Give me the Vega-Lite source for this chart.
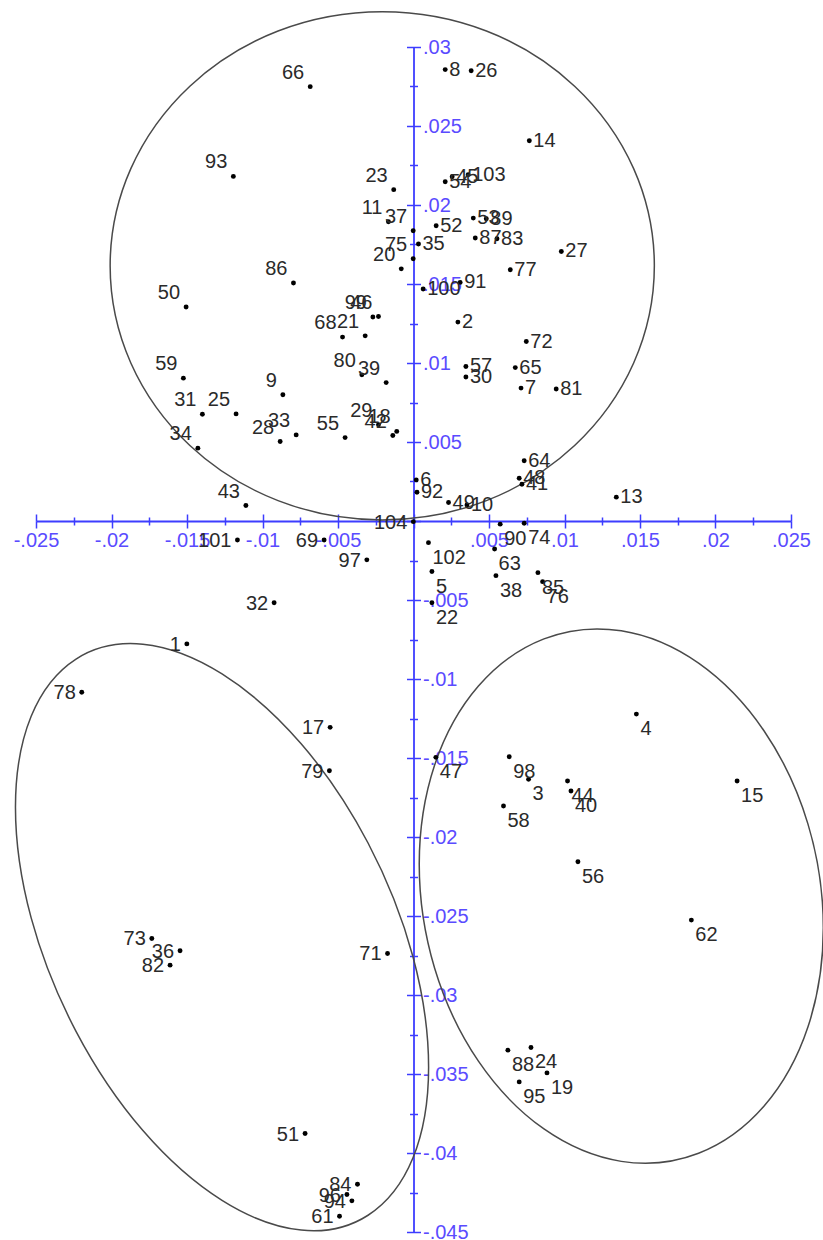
{
 "$schema": "https://vega.github.io/schema/vega-lite/v6.json",
 "width": 755,
 "height": 1185,
 "autosize": {"type": "none"},
 "padding": {"left": 36, "top": 47, "right": 32, "bottom": 8},
 "background": "white",
 "config": {
  "view": {"stroke": null},
  "axis": {"grid": false, "title": null, "domainColor": "#3d3dff", "tickColor": "#3d3dff", "labelColor": "#5a4bff", "labelFont": "Liberation Sans", "labelFontSize": 20, "domainWidth": 1.8, "tickWidth": 1.5, "zindex": 0, "labelOverlap": false, "labelFlush": false, "labelBound": false}
 },
 "datasets": {
  "pts": [
   {"id":"66","x":-0.00684,"y":0.02749},{"id":"93","x":-0.01193,"y":0.02181},{"id":"23","x":-0.00131,"y":0.02097},{"id":"11","x":-0.00166,"y":0.01894},{"id":"37","x":-0.00002,"y":0.01837},{"id":"75","x":-0.00002,"y":0.0166},{"id":"20","x":-0.00081,"y":0.01596},{"id":"86","x":-0.00795,"y":0.01506},{"id":"50","x":-0.01506,"y":0.01354},{"id":"99","x":-0.00269,"y":0.01291},{"id":"46","x":-0.00232,"y":0.01294},{"id":"68","x":-0.0047,"y":0.01164},{"id":"21","x":-0.0032,"y":0.01172},{"id":"80","x":-0.00342,"y":0.00925},{"id":"39","x":-0.00181,"y":0.00876},{"id":"59","x":-0.01524,"y":0.00904},{"id":"9","x":-0.00865,"y":0.00799},{"id":"31","x":-0.01398,"y":0.00676},{"id":"25","x":-0.01175,"y":0.00678},{"id":"28","x":-0.00883,"y":0.00503},{"id":"33","x":-0.00777,"y":0.00545},{"id":"55","x":-0.00453,"y":0.00528},{"id":"29","x":-0.00232,"y":0.00609},{"id":"18","x":-0.00111,"y":0.00567},{"id":"42","x":-0.00137,"y":0.00541},{"id":"34","x":-0.01428,"y":0.00461},{"id":"43","x":-0.0111,"y":0.00098},
   {"id":"8","x":0.0021,"y":0.02857},{"id":"26","x":0.00382,"y":0.0285},{"id":"14","x":0.00767,"y":0.02407},{"id":"54","x":0.0021,"y":0.02147},{"id":"45","x":0.00256,"y":0.02179},{"id":"103","x":0.00362,"y":0.02192},{"id":"52","x":0.0015,"y":0.01869},{"id":"53","x":0.00396,"y":0.01917},{"id":"89","x":0.00482,"y":0.01913},{"id":"87","x":0.00409,"y":0.01791},{"id":"83","x":0.00553,"y":0.01786},{"id":"27","x":0.00979,"y":0.01706},{"id":"77","x":0.00641,"y":0.0159},{"id":"35","x":0.00033,"y":0.01753},{"id":"100","x":0.00064,"y":0.01468},{"id":"91","x":0.00309,"y":0.0151},{"id":"2","x":0.00294,"y":0.01259},{"id":"72","x":0.00747,"y":0.01136},{"id":"57","x":0.00347,"y":0.00978},{"id":"30","x":0.00347,"y":0.00911},{"id":"65","x":0.00674,"y":0.00971},{"id":"7","x":0.00712,"y":0.00841},{"id":"81","x":0.00945,"y":0.00835},{"id":"64","x":0.00733,"y":0.00381},{"id":"48","x":0.007,"y":0.00271},{"id":"41","x":0.00718,"y":0.00233},{"id":"6","x":0.00018,"y":0.0026},{"id":"92","x":0.00023,"y":0.00182},{"id":"49","x":0.00232,"y":0.00117},{"id":"10","x":0.00354,"y":0.00102},{"id":"13","x":0.01343,"y":0.00151},
   {"id":"90","x":0.00574,"y":-0.0002},{"id":"74","x":0.00733,"y":-0.00014},{"id":"102","x":0.00099,"y":-0.00137},{"id":"63","x":0.00537,"y":-0.00177},{"id":"5","x":0.00122,"y":-0.0032},{"id":"38","x":0.00546,"y":-0.00346},{"id":"85","x":0.00824,"y":-0.00327},{"id":"76","x":0.00855,"y":-0.00384},{"id":"22","x":0.00122,"y":-0.00517},{"id":"47","x":0.00148,"y":-0.01496},{"id":"4","x":0.01476,"y":-0.01222},{"id":"98","x":0.00634,"y":-0.01492},{"id":"3","x":0.00762,"y":-0.01635},{"id":"44","x":0.0102,"y":-0.01646},{"id":"40","x":0.01043,"y":-0.01709},{"id":"15","x":0.02143,"y":-0.01646},{"id":"58","x":0.00596,"y":-0.01804},{"id":"56","x":0.01089,"y":-0.02157},{"id":"62","x":0.0184,"y":-0.02526},{"id":"88","x":0.00625,"y":-0.03349},{"id":"24","x":0.00778,"y":-0.03332},{"id":"19","x":0.00884,"y":-0.03493},{"id":"95","x":0.007,"y":-0.0355},
   {"id":"104","x":-0.00001,"y":-0.00004},{"id":"101","x":-0.01166,"y":-0.0012},{"id":"69","x":-0.00592,"y":-0.0012},{"id":"97","x":-0.00309,"y":-0.00246},{"id":"32","x":-0.00923,"y":-0.00517},{"id":"1","x":-0.01501,"y":-0.00778},{"id":"78","x":-0.02197,"y":-0.01084},{"id":"17","x":-0.00552,"y":-0.01306},{"id":"79","x":-0.00557,"y":-0.01581},{"id":"73","x":-0.01733,"y":-0.02642},{"id":"36","x":-0.01546,"y":-0.0272},{"id":"82","x":-0.01612,"y":-0.02811},{"id":"71","x":-0.00172,"y":-0.02737},{"id":"51","x":-0.00718,"y":-0.03877},{"id":"84","x":-0.00371,"y":-0.04198},{"id":"96","x":-0.00441,"y":-0.04263},{"id":"94","x":-0.00408,"y":-0.04303},{"id":"61","x":-0.0049,"y":-0.044}
  ],
  "ell": [
   {"e":1,"i":0,"x":0.01595,"y":0.01615},{"e":1,"i":1,"x":0.01458,"y":0.0223},{"e":1,"i":2,"x":0.01067,"y":0.02752},{"e":1,"i":3,"x":0.00483,"y":0.03101},{"e":1,"i":4,"x":-0.00207,"y":0.03223},{"e":1,"i":5,"x":-0.00897,"y":0.03101},{"e":1,"i":6,"x":-0.01481,"y":0.02752},{"e":1,"i":7,"x":-0.01872,"y":0.0223},{"e":1,"i":8,"x":-0.02009,"y":0.01615},{"e":1,"i":9,"x":-0.01872,"y":0.01},{"e":1,"i":10,"x":-0.01481,"y":0.00478},{"e":1,"i":11,"x":-0.00897,"y":0.00129},{"e":1,"i":12,"x":-0.00207,"y":0.00007},{"e":1,"i":13,"x":0.00483,"y":0.00129},{"e":1,"i":14,"x":0.01067,"y":0.00478},{"e":1,"i":15,"x":0.01458,"y":0.01},
   {"e":2,"i":0,"x":0.001,"y":-0.03457},{"e":2,"i":1,"x":-0.00004,"y":-0.04032},{"e":2,"i":2,"x":-0.00301,"y":-0.04394},{"e":2,"i":3,"x":-0.00744,"y":-0.04488},{"e":2,"i":4,"x":-0.01268,"y":-0.043},{"e":2,"i":5,"x":-0.01792,"y":-0.03858},{"e":2,"i":6,"x":-0.02235,"y":-0.0323},{"e":2,"i":7,"x":-0.02532,"y":-0.02512},{"e":2,"i":8,"x":-0.02636,"y":-0.01811},{"e":2,"i":9,"x":-0.02532,"y":-0.01236},{"e":2,"i":10,"x":-0.02235,"y":-0.00874},{"e":2,"i":11,"x":-0.01792,"y":-0.0078},{"e":2,"i":12,"x":-0.01268,"y":-0.00968},{"e":2,"i":13,"x":-0.00744,"y":-0.0141},{"e":2,"i":14,"x":-0.00301,"y":-0.02038},{"e":2,"i":15,"x":-0.00004,"y":-0.02756},
   {"e":3,"i":0,"x":0.02714,"y":-0.02575},{"e":3,"i":1,"x":0.02612,"y":-0.03203},{"e":3,"i":2,"x":0.02322,"y":-0.03703},{"e":3,"i":3,"x":0.01888,"y":-0.04002},{"e":3,"i":4,"x":0.01376,"y":-0.04053},{"e":3,"i":5,"x":0.00864,"y":-0.03848},{"e":3,"i":6,"x":0.0043,"y":-0.03419},{"e":3,"i":7,"x":0.0014,"y":-0.02831},{"e":3,"i":8,"x":0.00038,"y":-0.02173},{"e":3,"i":9,"x":0.0014,"y":-0.01545},{"e":3,"i":10,"x":0.0043,"y":-0.01045},{"e":3,"i":11,"x":0.00864,"y":-0.00746},{"e":3,"i":12,"x":0.01376,"y":-0.00695},{"e":3,"i":13,"x":0.01888,"y":-0.009},{"e":3,"i":14,"x":0.02322,"y":-0.01329},{"e":3,"i":15,"x":0.02612,"y":-0.01917}
  ]
 },
 "resolve": {"axis": {"x": "independent", "y": "independent"}},
 "layer": [
  {
   "data": {"name": "ell"},
   "mark": {"type": "line", "interpolate": "cardinal-closed", "color": "#4a4a4a", "strokeWidth": 1.5},
   "encoding": {
    "x": {"field": "x", "type": "quantitative", "scale": {"domain": [-0.025, 0.025], "nice": false, "zero": false},
      "axis": {"orient": "bottom", "offset": -711, "values": [-0.025,-0.02,-0.015,-0.01,-0.005,0,0.005,0.01,0.015,0.02,0.025], "tickSize": 7, "labelPadding": 2, "title": null,
        "labelExpr": "datum.value == 0 ? '' : (datum.value < 0 ? '-' : '') + replace(format(abs(datum.value), '.3~f'), '0.', '.')"}},
    "y": {"field": "y", "type": "quantitative", "scale": {"domain": [-0.045, 0.03], "nice": false, "zero": false},
      "axis": {"orient": "right", "offset": -377.5, "values": [-0.045,-0.04,-0.035,-0.03,-0.025,-0.02,-0.015,-0.01,-0.005,0,0.005,0.01,0.015,0.02,0.025,0.03], "tickSize": 7, "labelPadding": 2, "title": null,
        "labelExpr": "datum.value == 0 ? '' : (datum.value < 0 ? '-' : '') + replace(format(abs(datum.value), '.3~f'), '0.', '.')"}},
    "detail": {"field": "e", "type": "nominal"},
    "order": {"field": "i", "type": "quantitative"}
   }
  },
  {
   "data": {"name": "pts"},
   "mark": {"type": "circle", "size": 24, "color": "black", "opacity": 1},
   "encoding": {
    "x": {"field": "x", "type": "quantitative", "scale": {"domain": [-0.025, 0.025], "nice": false, "zero": false},
      "axis": {"orient": "top", "offset": -474, "values": [-0.025,-0.02,-0.015,-0.01,-0.005,0,0.005,0.01,0.015,0.02,0.025], "tickSize": 7, "labels": false, "domain": false, "title": null}},
    "y": {"field": "y", "type": "quantitative", "scale": {"domain": [-0.045, 0.03], "nice": false, "zero": false},
      "axis": {"orient": "left", "offset": -377.5, "values": [-0.045,-0.04,-0.035,-0.03,-0.025,-0.02,-0.015,-0.01,-0.005,0,0.005,0.01,0.015,0.02,0.025,0.03], "tickSize": 7, "labels": false, "domain": false, "title": null}}
   }
  },
  {
   "data": {"name": "pts"},
   "transform": [{"filter": "datum.x < 0 && datum.y > 0"}],
   "mark": {"type": "text", "align": "right", "baseline": "alphabetic", "dx": -6, "dy": -8, "font": "Liberation Sans", "fontSize": 20, "color": "#2a2a2a"},
   "encoding": {
    "x": {"field": "x", "type": "quantitative", "scale": {"domain": [-0.025, 0.025], "nice": false, "zero": false},
      "axis": {"orient": "bottom", "offset": -711, "values": [-0.0225,-0.0175,-0.0125,-0.0075,-0.0025,0.0025,0.0075,0.0125,0.0175,0.0225], "tickSize": 4, "labels": false, "domain": false, "title": null}},
    "y": {"field": "y", "type": "quantitative", "scale": {"domain": [-0.045, 0.03], "nice": false, "zero": false},
      "axis": {"orient": "right", "offset": -377.5, "values": [-0.0425,-0.0375,-0.0325,-0.0275,-0.0225,-0.0175,-0.0125,-0.0075,-0.0025,0.0025,0.0075,0.0125,0.0175,0.0225,0.0275], "tickSize": 4, "labels": false, "domain": false, "title": null}},
    "text": {"field": "id", "type": "nominal"}
   }
  },
  {
   "data": {"name": "pts"},
   "transform": [{"filter": "datum.x > 0 && datum.y > 0"}],
   "mark": {"type": "text", "align": "left", "baseline": "alphabetic", "dx": 4, "dy": 6, "font": "Liberation Sans", "fontSize": 20, "color": "#2a2a2a"},
   "encoding": {
    "x": {"field": "x", "type": "quantitative", "scale": {"domain": [-0.025, 0.025], "nice": false, "zero": false},
      "axis": {"orient": "top", "offset": -474, "values": [-0.0225,-0.0175,-0.0125,-0.0075,-0.0025,0.0025,0.0075,0.0125,0.0175,0.0225], "tickSize": 4, "labels": false, "domain": false, "title": null}},
    "y": {"field": "y", "type": "quantitative", "scale": {"domain": [-0.045, 0.03], "nice": false, "zero": false},
      "axis": {"orient": "left", "offset": -377.5, "values": [-0.0425,-0.0375,-0.0325,-0.0275,-0.0225,-0.0175,-0.0125,-0.0075,-0.0025,0.0025,0.0075,0.0125,0.0175,0.0225,0.0275], "tickSize": 4, "labels": false, "domain": false, "title": null}},
    "text": {"field": "id", "type": "nominal"}
   }
  },
  {
   "data": {"name": "pts"},
   "transform": [{"filter": "datum.x > 0 && datum.y < 0"}],
   "mark": {"type": "text", "align": "left", "baseline": "alphabetic", "dx": 4, "dy": 21, "font": "Liberation Sans", "fontSize": 20, "color": "#2a2a2a"},
   "encoding": {
    "x": {"field": "x", "type": "quantitative", "scale": {"domain": [-0.025, 0.025], "nice": false, "zero": false}, "axis": null},
    "y": {"field": "y", "type": "quantitative", "scale": {"domain": [-0.045, 0.03], "nice": false, "zero": false}, "axis": null},
    "text": {"field": "id", "type": "nominal"}
   }
  },
  {
   "data": {"name": "pts"},
   "transform": [{"filter": "datum.x < 0 && datum.y < 0"}],
   "mark": {"type": "text", "align": "right", "baseline": "alphabetic", "dx": -6, "dy": 7, "font": "Liberation Sans", "fontSize": 20, "color": "#2a2a2a"},
   "encoding": {
    "x": {"field": "x", "type": "quantitative", "scale": {"domain": [-0.025, 0.025], "nice": false, "zero": false}, "axis": null},
    "y": {"field": "y", "type": "quantitative", "scale": {"domain": [-0.045, 0.03], "nice": false, "zero": false}, "axis": null},
    "text": {"field": "id", "type": "nominal"}
   }
  }
 ]
}
